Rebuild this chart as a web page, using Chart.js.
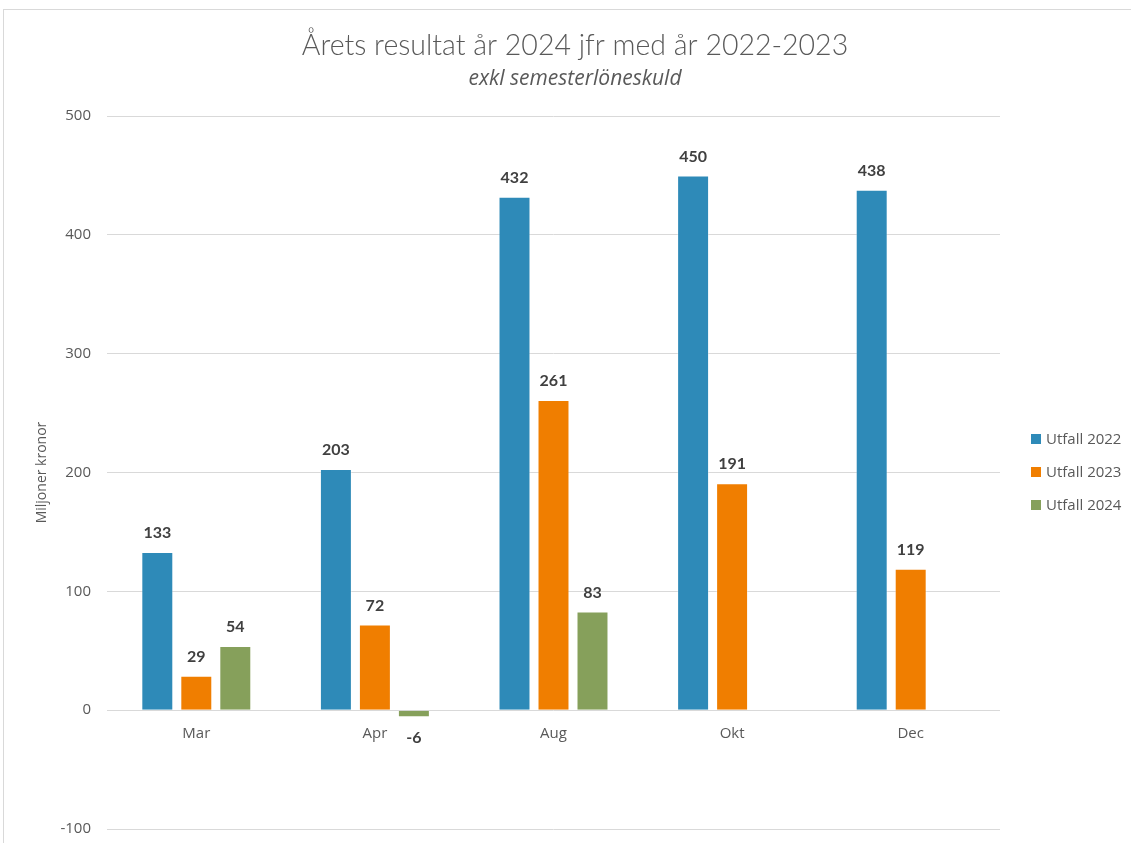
<!DOCTYPE html>
<html>
<head>
<meta charset="utf-8">
<script src="https://cdn.jsdelivr.net/npm/chart.js@4.4.1/dist/chart.umd.min.js"></script>
<style>
  html, body { margin: 0; padding: 0; background: #fff; }
  #wrap { width: 1131px; height: 843px; position: relative; }
</style>
</head>
<body>
<div id="wrap"><canvas id="result"></canvas></div>
<script>
// data
const months = ["Mar", "Apr", "Aug", "Okt", "Dec"];
const utfall2022 = [133, 203, 432, 450, 438];
const utfall2023 = [29, 72, 261, 191, 119];
const utfall2024 = [54, -6, 83, null, null];
const seriesNames = ["Utfall 2022", "Utfall 2023", "Utfall 2024"];
const seriesColors = ["#2E8AB8", "#F07E00", "#86A05B"];
const yMin = -100, yMax = 500, yStep = 100;

const chartTitle = "Årets resultat år 2024 jfr med år 2022-2023";
const chartSubtitle = "exkl semesterlöneskuld";
const yTitle = "Miljoner kronor";

const textGray = "#595959";
const labelDark = "#404040";
const gridGray = "#D9D9D9";

// frame, headings, value labels and legend drawn by hand
const decorations = {
    id: "decorations",
    beforeDraw(chart) {
        const ctx = chart.ctx;
        ctx.save();
        ctx.strokeStyle = gridGray;
        ctx.lineWidth = 1;
        ctx.strokeRect(3.5, 9.5, 1300, 1000);
        ctx.restore();
    },
    afterDraw(chart) {
        const ctx = chart.ctx;
        ctx.save();

        // headings
        ctx.textAlign = "center";
        ctx.textBaseline = "middle";
        ctx.fillStyle = textGray;
        ctx.font = "300 28.5px Lato";
        ctx.fillText(chartTitle, 575, 46);
        ctx.font = "italic 21px 'Open Sans'";
        ctx.fillText(chartSubtitle, 575, 79);

        // value labels above / below each bar
        ctx.font = "bold 16px Lato";
        ctx.fillStyle = labelDark;
        chart.data.datasets.forEach((ds, i) => {
            const meta = chart.getDatasetMeta(i);
            meta.data.forEach((bar, j) => {
                const v = ds.data[j];
                if (v === null || v === undefined) return;
                const y = v >= 0 ? bar.y - 19 : bar.y + 21;
                ctx.fillText(String(v), bar.x, y);
            });
        });

        // legend
        ctx.textAlign = "left";
        ctx.font = "15px 'Open Sans'";
        const legendY = [439, 472, 505];
        chart.data.datasets.forEach((ds, i) => {
            ctx.fillStyle = ds.backgroundColor;
            ctx.fillRect(1031, legendY[i] - 5, 10, 10);
            ctx.fillStyle = textGray;
            ctx.fillText(ds.label, 1046, legendY[i] + 1);
        });

        ctx.restore();
    },
};

const makeSet = (idx, values) => ({
    label: seriesNames[idx],
    data: values,
    backgroundColor: seriesColors[idx],
    borderColor: "rgba(255,255,255,0.35)",
    borderWidth: 1,
    categoryPercentage: 0.655,
    barPercentage: 0.82,
});

new Chart(document.getElementById("result"), {
    type: "bar",
    data: {
        labels: months,
        datasets: [
            makeSet(0, utfall2022),
            makeSet(1, utfall2023),
            makeSet(2, utfall2024),
        ],
    },
    options: {
        responsive: true,
        maintainAspectRatio: false,
        animation: false,
        events: [],
        layout: { padding: { top: 116, right: 131, bottom: 14, left: 0 } },
        plugins: {
            legend: { display: false },
            title: { display: false },
            tooltip: { enabled: false },
        },
        scales: {
            x: {
                position: { y: 0 },
                grid: { display: false, drawTicks: false },
                border: { display: false },
                ticks: { color: textGray, font: { family: "'Open Sans'", size: 15 }, padding: 15 },
            },
            y: {
                min: yMin,
                max: yMax,
                afterFit: (scale) => { scale.width = 107; },
                ticks: {
                    stepSize: yStep,
                    color: textGray,
                    font: { family: "'Open Sans'", size: 15 },
                    padding: 0,
                },
                // invisible tick marks keep the labels clear of the plot
                grid: { color: gridGray, lineWidth: 1, drawTicks: true, tickLength: 16, tickColor: "rgba(0,0,0,0)" },
                border: { display: false },
                title: {
                    display: true,
                    text: yTitle,
                    color: textGray,
                    font: { family: "'Open Sans'", size: 14 },
                    padding: { top: 34, bottom: 0 },
                },
            },
        },
    },
    plugins: [decorations],
});
</script>
</body>
</html>
